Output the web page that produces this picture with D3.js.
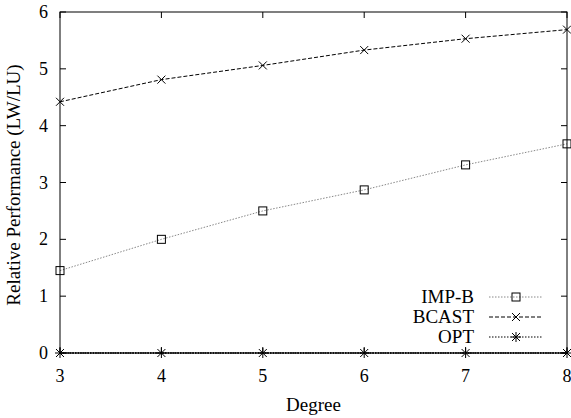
<!DOCTYPE html>
<html>
<head>
    <meta charset="UTF-8">
    <script src="https://d3js.org/d3.v7.min.js"></script>
</head>
<body style="margin:0">
<svg class="chart"></svg>

<script>

    const width = 571;
    const height = 418;

    // data
    const degrees = [3, 4, 5, 6, 7, 8];
    const impB = [1.45, 2.0, 2.5, 2.87, 3.31, 3.68];
    const bcast = [4.42, 4.81, 5.06, 5.33, 5.53, 5.69];
    const opt = [0, 0, 0, 0, 0, 0];
    const yTicks = [0, 1, 2, 3, 4, 5, 6];

    const padL = 60, padR = 567, padT = 12, padB = 353;
    const font = "'Liberation Serif'";

    let svg = d3.select(".chart")
        .attr("width", width)
        .attr("height", height);

    let x = d3.scaleLinear().domain([3, 8]).range([padL, padR]);
    let y = d3.scaleLinear().domain([0, 6]).range([padB, padT]);

    let series = [
        {name: "IMP-B", values: impB, color: "#888", dash: "1.5,1.5", width: 1, mark: "square"},
        {name: "BCAST", values: bcast, color: "#000", dash: "4,2", width: 1, mark: "cross"},
        {name: "OPT", values: opt, color: "#000", dash: "1.5,1.5", width: 1.2, mark: "star"}
    ];

    // ticks (inward, mirrored)
    let tl = 6;
    let g = svg.append("g").attr("stroke", "#000").attr("stroke-width", 1);
    yTicks.forEach(function (t) {
        g.append("line").attr("x1", padL).attr("x2", padL + tl).attr("y1", y(t)).attr("y2", y(t));
        g.append("line").attr("x1", padR).attr("x2", padR - tl).attr("y1", y(t)).attr("y2", y(t));
    });
    degrees.forEach(function (d) {
        g.append("line").attr("x1", x(d)).attr("x2", x(d)).attr("y1", padB).attr("y2", padB - tl);
        g.append("line").attr("x1", x(d)).attr("x2", x(d)).attr("y1", padT).attr("y2", padT + tl);
    });

    svg.selectAll(".ylab").data(yTicks).enter().append("text")
        .attr("x", padL - 12)
        .attr("y", d => y(d) + 6)
        .attr("text-anchor", "end")
        .attr("font-family", font)
        .attr("font-size", 18)
        .text(d => d);

    svg.selectAll(".xlab").data(degrees).enter().append("text")
        .attr("x", d => x(d))
        .attr("y", padB + 29)
        .attr("text-anchor", "middle")
        .attr("font-family", font)
        .attr("font-size", 18)
        .text(d => d);

    svg.append("text")
        .attr("transform", "translate(20,185) rotate(-90)")
        .attr("text-anchor", "middle")
        .attr("font-family", font)
        .attr("font-size", 19)
        .text("Relative Performance (LW/LU)");

    svg.append("text")
        .attr("x", (padL + padR) / 2)
        .attr("y", 411)
        .attr("text-anchor", "middle")
        .attr("font-family", font)
        .attr("font-size", 19)
        .text("Degree");

    function drawMark(sel, type, cx, cy) {
        let s = 4;
        if (type === "square") {
            sel.append("rect").attr("x", cx - s).attr("y", cy - s).attr("width", 2 * s).attr("height", 2 * s)
                .attr("fill", "none").attr("stroke", "#000").attr("stroke-width", 1);
        } else {
            let p = "M" + (cx - s) + "," + (cy - s) + "L" + (cx + s) + "," + (cy + s) +
                "M" + (cx - s) + "," + (cy + s) + "L" + (cx + s) + "," + (cy - s);
            if (type === "star") {
                p += "M" + cx + "," + (cy - s - 1) + "L" + cx + "," + (cy + s + 1) +
                    "M" + (cx - s - 1) + "," + cy + "L" + (cx + s + 1) + "," + cy;
            }
            sel.append("path").attr("d", p).attr("stroke", "#000").attr("stroke-width", 1).attr("fill", "none");
        }
    }

    let line = d3.line().x((d, i) => x(degrees[i])).y(d => y(d));

    series.forEach(function (s) {
        svg.append("path")
            .attr("d", line(s.values))
            .attr("fill", "none")
            .attr("stroke", s.color)
            .attr("stroke-width", s.width)
            .attr("stroke-dasharray", s.dash);
    });

    // frame
    svg.append("rect")
        .attr("x", padL).attr("y", padT)
        .attr("width", padR - padL).attr("height", padB - padT)
        .attr("fill", "none").attr("stroke", "#000").attr("stroke-width", 1);

    // opt line over the axis
    svg.append("path")
        .attr("d", line(opt))
        .attr("fill", "none")
        .attr("stroke", "#000")
        .attr("stroke-width", 1.5)
        .attr("stroke-dasharray", "1.5,1");

    series.forEach(function (s) {
        s.values.forEach(function (v, i) {
            drawMark(svg, s.mark, x(degrees[i]), y(v));
        });
    });

    // legend
    let legY = [297, 317, 337];
    series.forEach(function (s, i) {
        svg.append("text")
            .attr("x", 474)
            .attr("y", legY[i] + 6)
            .attr("text-anchor", "end")
            .attr("font-family", font)
            .attr("font-size", 19)
            .text(s.name);
        svg.append("line")
            .attr("x1", 489).attr("x2", 543)
            .attr("y1", legY[i]).attr("y2", legY[i])
            .attr("stroke", s.color)
            .attr("stroke-width", s.width)
            .attr("stroke-dasharray", s.dash);
        drawMark(svg, s.mark, 516, legY[i]);
    });

</script>

</body>
</html>
